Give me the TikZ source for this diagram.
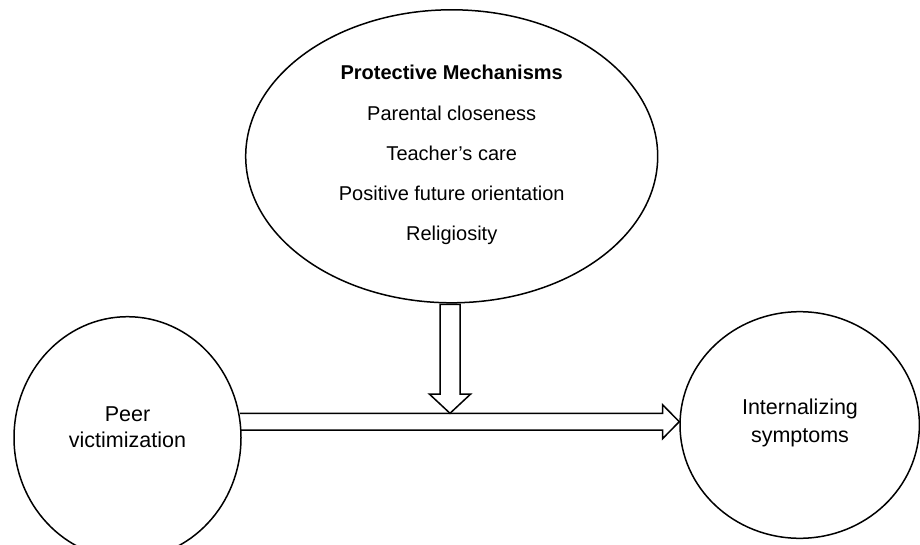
\documentclass[tikz,border=0pt]{standalone}
\usepackage{fontspec}
\setmainfont{Liberation Sans}
\usetikzlibrary{shapes.geometric,calc}
\begin{document}
\begin{tikzpicture}[x=1pt,y=-1pt,line width=1.5pt,
  oval/.style={draw,ellipse,inner sep=0pt},
  lbl/.style={align=center,inner sep=0pt},
  blockarrow/.style={draw,line join=miter}]
\useasboundingbox (0,0) rectangle (920,545);
\clip (0,0) rectangle (920,545);
% ovals
\node[oval,minimum width=412pt,minimum height=293pt] (pm) at (451.7,156.3) {};
\node[oval,minimum width=227pt,minimum height=242pt] (pv) at (127.5,437.7) {};
\node[oval,minimum width=239.4pt,minimum height=226.6pt] (is) at (799.7,425) {};
% texts
\node[lbl,font=\fontsize{20}{40.2}\selectfont] (pmt) at (451.7,155.2)
  {\textbf{Protective Mechanisms}\\Parental closeness\\Teacher’s care\\Positive future orientation\\Religiosity};
\node[lbl,font=\fontsize{21.5}{26}\selectfont] (pvt) at (127.5,427.5) {Peer\\victimization};
\node[lbl,font=\fontsize{21.5}{27.7}\selectfont] (ist) at (800,422.7) {Internalizing\\symptoms};
% horizontal block arrow from pv to is
\coordinate (htip) at ($(is.west)+(0,-3.3)$);
\draw[blockarrow] (240,413.3) -- ($(htip)+(-16.7,-8.4)$) -- ($(htip)+(-16.7,-17)$) -- (htip)
  -- ($(htip)+(-16.7,17)$) -- ($(htip)+(-16.7,8.3)$) -- (240,430);
% vertical block arrow from pm down to the horizontal arrow
\coordinate (vtip) at (450,413.3);
\draw[blockarrow,fill=white] ($(pm.south)+(-11.7,0.7)$) -- ($(pm.south)+(8.3,0.7)$)
  -- ($(vtip)+(10,-19.3)$) -- ($(vtip)+(20.7,-19.3)$) -- (vtip)
  -- ($(vtip)+(-20.7,-19.3)$) -- ($(vtip)+(-10,-19.3)$) -- cycle;
\end{tikzpicture}
\end{document}
